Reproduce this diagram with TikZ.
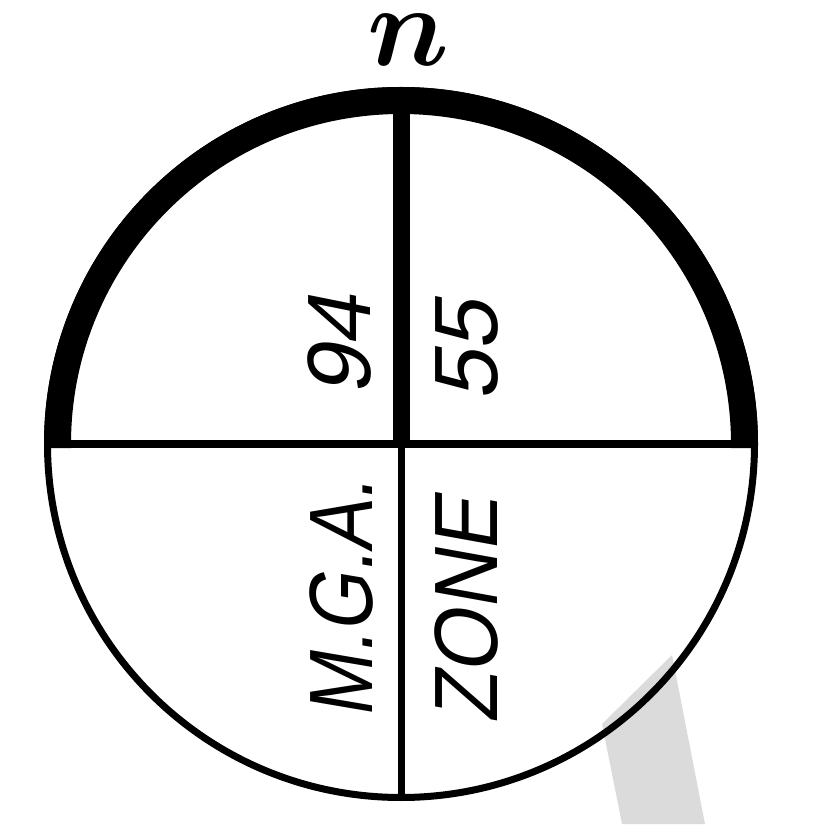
\documentclass[tikz,border=0pt]{standalone}
\usepackage{bm}
\usepackage{fontspec}
\setmainfont{Liberation Sans}
\newfontfamily\slsans[FakeSlant=0.2]{Liberation Sans}
\begin{document}
\begin{tikzpicture}[x=1pt,y=1pt,
  thinline/.style={line width=7pt},
  thickline/.style={line width=17pt},
  rimline/.style={line width=27pt},
  lbl/.style={rotate=90,anchor=base,inner sep=0pt,font=\slsans\fontsize{90}{90}\selectfont}]
\useasboundingbox (0,0) rectangle (826,824);
\coordinate (C) at (401,380);
% gray bar
\fill[gray!28] (602,100) -- (672,169) -- (705,0) -- (622,0) -- cycle;
% circle
\draw[thinline] (C) circle[radius=353.5pt];
% thick upper rim
\draw[rimline] ([shift={(180.7:343.5pt)}]C) arc[start angle=180.7,end angle=-0.7,radius=343.5pt];
% horizontal diameter
\coordinate (L) at (47.5,380);
\coordinate (R) at (754.5,380);
\draw[line width=8pt] (L) -- (R);
% vertical lines
\coordinate (T) at (401.5,720);
\coordinate (M) at (401.5,376);
\coordinate (B) at (401.5,26.5);
\draw[thickline] (T) -- (M);
\draw[thinline] (C) ++(0.5,0) -- (B);
% labels
\node[anchor=base,inner sep=0pt] (n) at (408,758) {\scalebox{11.5}{$\bm{n}$}};
\node[lbl] (a) at (370,478) {94};
\node[lbl] (b) at (497,473) {55};
\node[lbl,xscale=0.85] (c) at (372,225) {M.G.A.};
\node[lbl,xscale=0.9] (d) at (497,213) {ZONE};
\end{tikzpicture}
\end{document}
